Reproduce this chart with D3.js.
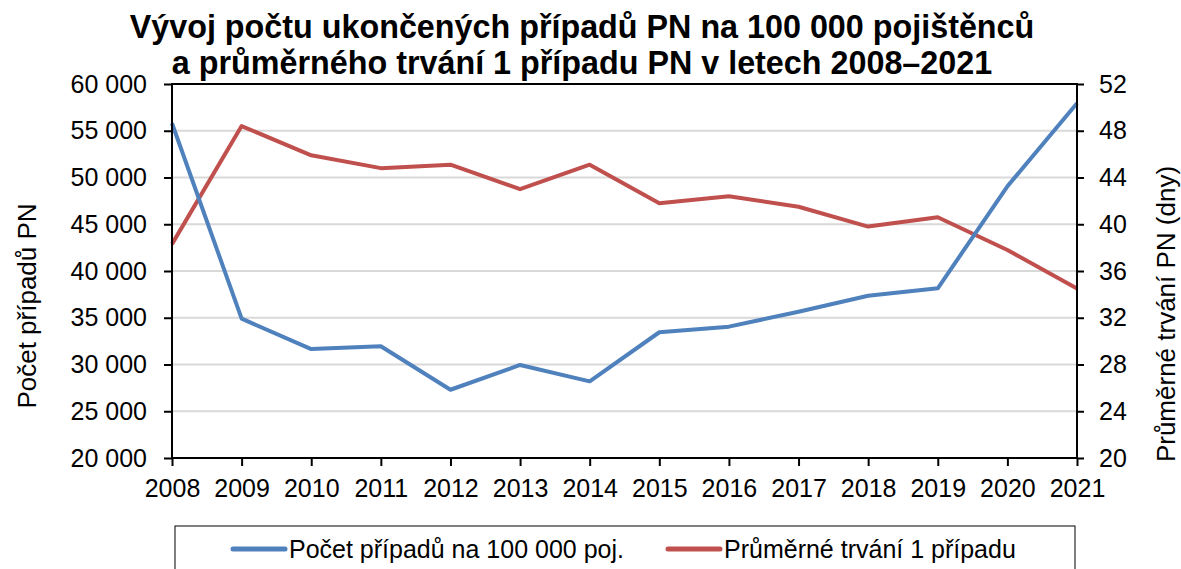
<!DOCTYPE html>
<html>
<head>
<meta charset="utf-8">
<script src="https://cdn.jsdelivr.net/npm/d3@7"></script>
<style>
  body { margin: 0; background: #fff; }
  svg { display: block; font-family: "Liberation Sans", Arial, sans-serif; }
</style>
</head>
<body>
<svg width="1181" height="569"></svg>
<script>
'use strict';

var years = [2008, 2009, 2010, 2011, 2012, 2013, 2014, 2015, 2016, 2017, 2018, 2019, 2020, 2021];
var cases = [55800, 34900, 31650, 31950, 27300, 29950, 28200, 33450, 34050, 35650, 37350, 38150, 49050, 57950];
var duration = [38.3, 48.4, 45.9, 44.8, 45.1, 43.0, 45.1, 41.8, 42.4, 41.5, 39.8, 40.6, 37.8, 34.5];
var leftTicks = [20000, 25000, 30000, 35000, 40000, 45000, 50000, 55000, 60000];
var rightTicks = [20, 24, 28, 32, 36, 40, 44, 48, 52];
var titleLines = ['Vývoj počtu ukončených případů PN na 100 000 pojištěnců',
                  'a průměrného trvání 1 případu PN v letech 2008–2021'];
var seriesNames = ['Počet případů na 100 000 poj.', 'Průměrné trvání 1 případu'];

var BLUE = '#4f81bd';
var RED = '#c0504d';

var margin = { left: 172, right: 1077, top: 84, bottom: 458 };

var svg = d3.select('svg');

var x = d3.scalePoint()
    .domain(years)
    .range([margin.left, margin.right]);

var yL = d3.scaleLinear().domain([20000, 60000]).range([margin.bottom, margin.top]);
var yR = d3.scaleLinear().domain([20, 52]).range([margin.bottom, margin.top]);

var fmt = function(d) { return d3.format(',')(d).replace(',', ' '); };

//gridlines
svg.append('g')
    .selectAll('line')
    .data(leftTicks.slice(1, -1))
    .enter()
    .append('line')
    .attr('x1', margin.left)
    .attr('x2', margin.right)
    .attr('y1', function(d) { return yL(d); })
    .attr('y2', function(d) { return yL(d); })
    .attr('stroke', '#d9d9d9')
    .attr('stroke-width', 2);

//lines
var lineL = d3.line()
    .x(function(d, i) { return x(years[i]); })
    .y(function(d) { return yL(d); });
var lineR = d3.line()
    .x(function(d, i) { return x(years[i]); })
    .y(function(d) { return yR(d); });

svg.append('path')
    .datum(duration)
    .attr('fill', 'none')
    .attr('stroke', RED)
    .attr('stroke-width', 4)
    .attr('stroke-linejoin', 'round')
    .attr('d', lineR);

svg.append('path')
    .datum(cases)
    .attr('fill', 'none')
    .attr('stroke', BLUE)
    .attr('stroke-width', 4)
    .attr('stroke-linejoin', 'round')
    .attr('d', lineL);

//plot border
svg.append('rect')
    .attr('x', margin.left)
    .attr('y', margin.top)
    .attr('width', margin.right - margin.left)
    .attr('height', margin.bottom - margin.top)
    .attr('fill', 'none')
    .attr('stroke', '#000')
    .attr('stroke-width', 2);

//axes
var axisStyle = function(g) {
    g.attr('font-size', 25).attr('font-family', '"Liberation Sans", Arial, sans-serif');
    g.select('.domain').remove();
    g.selectAll('.tick line').attr('stroke', '#000').attr('stroke-width', 2);
    g.selectAll('.tick text').attr('fill', '#000');
};

svg.append('g')
    .attr('transform', 'translate(' + margin.left + ',0)')
    .call(d3.axisLeft(yL).tickValues(leftTicks).tickFormat(fmt).tickSize(8).tickPadding(17))
    .call(axisStyle);

svg.append('g')
    .attr('transform', 'translate(' + margin.right + ',0)')
    .call(d3.axisRight(yR).tickValues(rightTicks).tickSize(7).tickPadding(15))
    .call(axisStyle);

svg.append('g')
    .attr('transform', 'translate(0,' + margin.bottom + ')')
    .call(d3.axisBottom(x).tickSize(8).tickPadding(13))
    .call(axisStyle);

//title
svg.append('text')
    .attr('text-anchor', 'middle')
    .attr('font-size', 32.3)
    .attr('font-weight', 'bold')
    .selectAll('tspan')
    .data(titleLines)
    .enter()
    .append('tspan')
    .attr('x', 582)
    .attr('y', function(d, i) { return 38 + i * 36; })
    .text(function(d) { return d; });

//axis titles
svg.append('text')
    .attr('transform', 'translate(36,306) rotate(-90)')
    .attr('text-anchor', 'middle')
    .attr('font-size', 26)
    .text('Počet případů PN');

svg.append('text')
    .attr('transform', 'translate(1175,314) rotate(-90)')
    .attr('text-anchor', 'middle')
    .attr('font-size', 26)
    .text('Průměrné trvání PN (dny)');

//legend
svg.append('rect')
    .attr('x', 175)
    .attr('y', 526)
    .attr('width', 900)
    .attr('height', 60)
    .attr('fill', '#fff')
    .attr('stroke', '#000')
    .attr('stroke-width', 1);

var legendX = [233, 668];
var legend = svg.append('g')
    .selectAll('g')
    .data(seriesNames)
    .enter()
    .append('g')
    .attr('transform', function(d, i) { return 'translate(' + legendX[i] + ',549)'; });

legend.append('line')
    .attr('x1', 0)
    .attr('x2', 52)
    .attr('stroke', function(d, i) { return i === 0 ? BLUE : RED; })
    .attr('stroke-width', 5)
    .attr('stroke-linecap', 'round');

legend.append('text')
    .attr('x', 56)
    .attr('y', 9)
    .attr('font-size', 25)
    .text(function(d) { return d; });
</script>
</body>
</html>
